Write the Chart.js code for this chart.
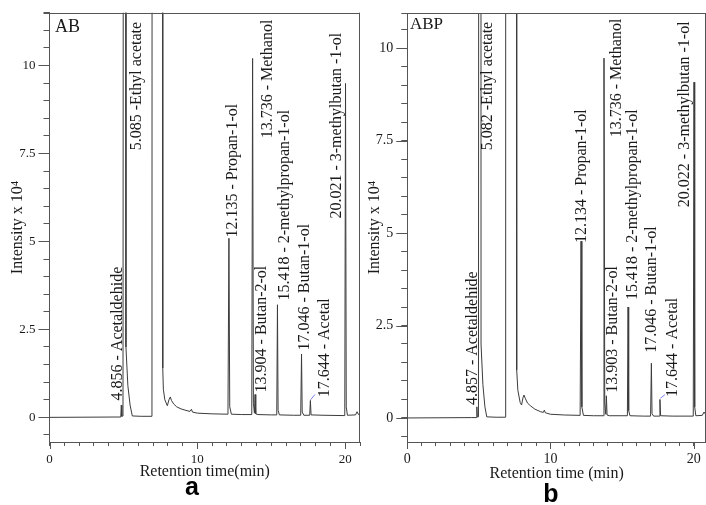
<!DOCTYPE html>
<html>
<head>
<meta charset="utf-8">
<script src="https://cdn.jsdelivr.net/npm/chart.js@4.4.1/dist/chart.umd.min.js"></script>
<style>
    body { margin: 0; background: #fff; }
    #wrap { position: relative; width: 706px; height: 505px; overflow: hidden; }
    #chartA { position: absolute; left: 0; top: 0; }
    #chartB { position: absolute; left: 362px; top: 0; }
</style>
</head>
<body>
<div id="wrap">
    <canvas id="chartA" width="362" height="505"></canvas>
    <canvas id="chartB" width="344" height="505"></canvas>
</div>
<script>
    // sample AB: retention time (min) and intensity (x 10^4)
    const timeA = [
        0, 4.5, 4.82, 4.856, 4.89, 4.97, 5.03, 5.15, 5.17, 5.3, 5.45, 5.6, 6.2, 6.93,
        6.96, 7.62, 7.66, 7.7, 7.8, 7.97, 8.08, 8.17, 8.25, 8.4, 8.6, 8.9, 9.3, 9.5,
        9.6, 9.67, 10.0, 11.0, 12.07, 12.135, 12.19, 12.3, 13.0, 13.68, 13.736, 13.79,
        13.86, 13.904, 13.95, 14.1, 15.0, 15.37, 15.418, 15.46, 15.55, 16.5, 16.99,
        17.046, 17.09, 17.2, 17.6, 17.644, 17.69, 18.5, 19.97, 20.021, 20.07, 20.15,
        20.7, 20.8, 20.9, 21.0
    ];
    const intensityA = [
        0, 0.01, 0.01, 0.35, 0.03, 0.04, 45, 45, 2.0, 0.9, 0.35, 0.04, 0.03, 0.03,
        60, 60, 1.4, 0.8, 0.5, 0.33, 0.5, 0.58, 0.48, 0.38, 0.3, 0.24, 0.19, 0.17,
        0.23, 0.15, 0.12, 0.1, 0.09, 5.09, 0.3, 0.09, 0.08, 0.08, 10.2, 0.4,
        0.12, 0.65, 0.1, 0.08, 0.07, 0.07, 3.2, 0.2, 0.07, 0.06, 0.06,
        1.8, 0.15, 0.06, 0.06, 0.48, 0.07, 0.06, 0.05, 9.49, 0.3, 0.06,
        0.07, 0.16, 0.08, 0.07
    ];

    // sample ABP
    const timeB = [
        0, 4.5, 4.82, 4.857, 4.89, 4.97, 5.02, 5.13, 5.15, 5.28, 5.42, 5.55, 6.2, 6.84,
        6.87, 7.6, 7.64, 7.72, 7.88, 7.98, 8.08, 8.15, 8.25, 8.4, 8.6, 8.9, 9.3, 9.5,
        9.57, 9.64, 10.0, 11.0, 12.07, 12.134, 12.19, 12.3, 13.0, 13.68, 13.736, 13.79,
        13.86, 13.903, 13.95, 14.1, 15.0, 15.37, 15.418, 15.46, 15.55, 16.5, 16.99,
        17.046, 17.09, 17.2, 17.6, 17.644, 17.69, 18.5, 19.97, 20.022, 20.07, 20.15,
        20.6, 20.72, 20.86
    ];
    const intensityB = [
        0, 0.01, 0.01, 0.3, 0.03, 0.03, 45, 45, 2.0, 0.9, 0.3, 0.03, 0.02, 0.02,
        60, 60, 1.3, 0.75, 0.42, 0.35, 0.55, 0.62, 0.52, 0.4, 0.33, 0.24, 0.17, 0.15,
        0.21, 0.14, 0.1, 0.08, 0.07, 4.78, 0.3, 0.07, 0.06, 0.06, 9.73, 0.4,
        0.1, 0.6, 0.08, 0.06, 0.06, 0.06, 3.0, 0.2, 0.06, 0.05, 0.05,
        1.48, 0.12, 0.05, 0.05, 0.5, 0.06, 0.05, 0.05, 9.08, 0.3, 0.06,
        0.07, 0.16, 0.08
    ];

    const peakNamesA = ['4.856 - Acetaldehide', '5.085 -Ethyl acetate', '12.135 - Propan-1-ol',
        '13.736 - Methanol', '13.904 - Butan-2-ol', '15.418 - 2-methylpropan-1-ol',
        '17.046 - Butan-1-ol', '17.644 - Acetal', '20.021 - 3-methylbutan -1-ol'];
    const peakNamesB = ['4.857 - Acetaldehide', '5.082 -Ethyl acetate', '12.134 - Propan-1-ol',
        '13.736 - Methanol', '13.903 - Butan-2-ol', '15.418 - 2-methylpropan-1-ol',
        '17.046 - Butan-1-ol', '17.644 - Acetal', '20.022 - 3-methylbutan -1-ol'];

    const majorYTicks = [0, 2.5, 5, 7.5, 10];
    const majorXTicks = [0, 10, 20];

    // where each rotated label starts (time, intensity)
    const labelAtA = [[4.63, 0.48], [5.91, 7.59], [12.39, 5.11], [14.75, 7.93], [14.35, 0.71],
        [15.9, 3.32], [17.25, 1.9], [18.6, 0.57], [19.41, 5.65]];
    const labelAtB = [[4.59, 0.35], [5.64, 7.24], [12.2, 4.73], [14.63, 7.59], [14.36, 0.68],
        [15.76, 3.19], [17.09, 1.76], [18.55, 0.57], [19.39, 5.7]];

    const axisColor = '#555';
    const textColor = '#1a1a1a';
    const serif = '"Liberation Serif", "Times New Roman", serif';

    function isIn(list, v) {
        return list.some(m => Math.abs(m - v) < 1e-6);
    }

    const chromPlugin = {
        id: 'chrom',
        afterDraw(chart, args, opts) {
            const ctx = chart.ctx;
            const area = chart.chartArea;
            const xs = chart.scales.x;
            const ys = chart.scales.y;
            ctx.save();

            // top and right frame
            ctx.strokeStyle = axisColor;
            ctx.lineWidth = 1;
            ctx.beginPath();
            ctx.moveTo(area.left - 6, Math.round(area.top) + 0.5);
            ctx.lineTo(area.right, Math.round(area.top) + 0.5);
            ctx.moveTo(Math.round(area.right) - 0.5, area.top);
            ctx.lineTo(Math.round(area.right) - 0.5, area.bottom);
            // longer major ticks
            majorYTicks.forEach(v => {
                const py = Math.round(ys.getPixelForValue(v)) + 0.5;
                ctx.moveTo(area.left - 11, py);
                ctx.lineTo(area.left, py);
            });
            majorXTicks.forEach(v => {
                const px = Math.round(xs.getPixelForValue(v)) + 0.5;
                if (px > area.right) return;
                ctx.moveTo(px, area.bottom);
                ctx.lineTo(px, area.bottom + 7);
            });
            ctx.stroke();

            // rotated peak labels
            ctx.fillStyle = textColor;
            ctx.font = '16px ' + serif;
            ctx.textAlign = 'left';
            ctx.textBaseline = 'middle';
            opts.names.forEach((name, i) => {
                const at = opts.at[i];
                ctx.save();
                ctx.translate(xs.getPixelForValue(at[0]), ys.getPixelForValue(at[1]));
                ctx.rotate(-Math.PI / 2);
                ctx.fillText(name, 0, 0);
                ctx.restore();
            });

            // leader line of the acetal label
            ctx.strokeStyle = '#7c7cf2';
            ctx.beginPath();
            ctx.moveTo(xs.getPixelForValue(opts.leader[0]), ys.getPixelForValue(opts.leader[1]));
            ctx.lineTo(xs.getPixelForValue(opts.leader[2]), ys.getPixelForValue(opts.leader[3]));
            ctx.stroke();

            // sample tag
            ctx.fillStyle = textColor;
            ctx.font = opts.tagSize + 'px ' + serif;
            ctx.textBaseline = 'alphabetic';
            ctx.fillText(opts.tag, area.left + opts.tagDx, area.top + opts.tagDy);

            // panel letter
            ctx.font = 'bold 25px "Liberation Sans", Arial, sans-serif';
            ctx.textAlign = 'center';
            ctx.fillStyle = '#000';
            ctx.fillText(opts.letter, opts.letterX, opts.letterY);
            ctx.restore();
        }
    };

    function makeChart(id, times, values, p) {
        const points = times.map((t, i) => ({ x: t, y: values[i] }));
        return new Chart(document.getElementById(id), {
            type: 'line',
            data: {
                datasets: [{
                    data: points,
                    borderColor: '#3c3c3c',
                    borderWidth: 1,
                    pointRadius: 0,
                    pointHoverRadius: 0,
                    tension: 0
                }]
            },
            options: {
                responsive: false,
                animation: false,
                devicePixelRatio: 1,
                layout: {
                    autoPadding: false,
                    padding: { top: p.top, right: p.right, left: 0, bottom: 0 }
                },
                plugins: {
                    legend: { display: false },
                    tooltip: { enabled: false },
                    chrom: p.chrom
                },
                scales: {
                    x: {
                        type: 'linear',
                        min: 0,
                        max: p.xMax,
                        afterFit: s => {
                            s.height = 63;
                            s.paddingLeft = 0;
                            s.paddingRight = 0;
                        },
                        border: { display: true, color: axisColor, width: 1 },
                        grid: { drawOnChartArea: false, tickLength: 4, tickColor: axisColor },
                        ticks: {
                            stepSize: 1,
                            autoSkip: false,
                            maxRotation: 0,
                            includeBounds: false,
                            padding: p.xPad,
                            color: textColor,
                            font: { family: serif, size: p.tickSize },
                            callback: v => (isIn(majorXTicks, v) ? String(v) : '')
                        },
                        title: {
                            display: true,
                            text: p.xTitle,
                            color: textColor,
                            font: { family: serif, size: 16 },
                            padding: { top: 0, bottom: p.xTitlePad }
                        }
                    },
                    y: {
                        min: p.yMin,
                        max: p.yMax,
                        afterFit: s => {
                            s.width = p.yWidth;
                            s.paddingTop = 0;
                            s.paddingBottom = 0;
                        },
                        border: { display: true, color: axisColor, width: 1 },
                        grid: { drawOnChartArea: false, tickLength: 6, tickColor: axisColor },
                        ticks: {
                            stepSize: 0.5,
                            autoSkip: false,
                            includeBounds: false,
                            padding: 8,
                            color: textColor,
                            font: { family: serif, size: p.tickSize },
                            callback: v => (isIn(majorYTicks, v) ? String(v) : '')
                        },
                        title: {
                            display: true,
                            text: 'Intensity x 10\u2074',
                            color: textColor,
                            font: { family: serif, size: 16 },
                            padding: { top: p.yTitlePad, bottom: 0 }
                        }
                    }
                }
            },
            plugins: [chromPlugin]
        });
    }

    makeChart('chartA', timeA, intensityA, {
        top: 12.7, right: 2, xMax: 21.0, yMin: -0.7, yMax: 11.5, yWidth: 49.5,
        xPad: 6, tickSize: 13, xTitle: 'Retention time(min)', xTitlePad: 24, yTitlePad: 8,
        chrom: {
            names: peakNamesA, at: labelAtA, leader: [17.66, 0.5, 17.95, 0.65],
            tag: 'AB', tagSize: 18, tagDx: 5.5, tagDy: 19.6,
            letter: 'a', letterX: 192, letterY: 495
        }
    });

    makeChart('chartB', timeB, intensityB, {
        top: 13, right: 0, xMax: 20.86, yMin: -0.65, yMax: 10.95, yWidth: 45.3,
        xPad: 5, tickSize: 14, xTitle: 'Retention time (min)', xTitlePad: 21.5, yTitlePad: 3.4,
        chrom: {
            names: peakNamesB, at: labelAtB, leader: [17.67, 0.53, 17.99, 0.63],
            tag: 'ABP', tagSize: 17, tagDx: 2.7, tagDy: 16.3,
            letter: 'b', letterX: 551 - 362, letterY: 502
        }
    });
</script>
</body>
</html>
